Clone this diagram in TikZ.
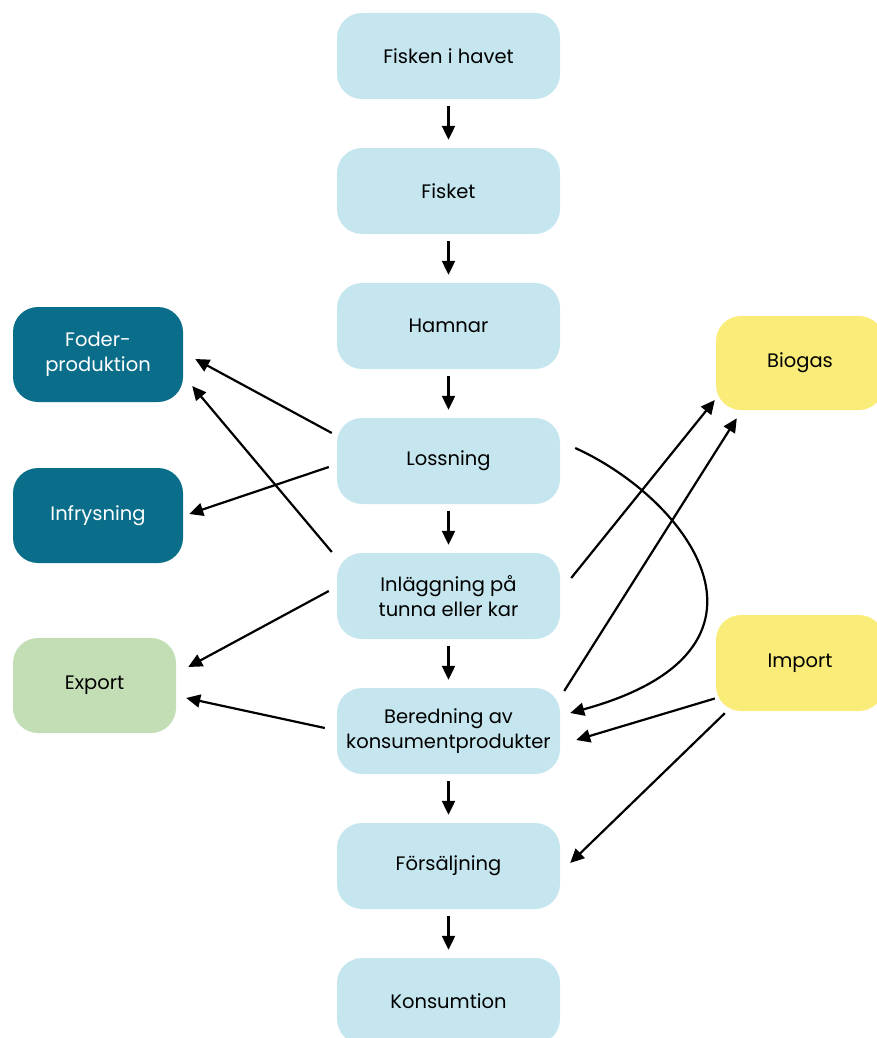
\documentclass[tikz,border=0pt]{standalone}
\usepackage{fontspec}
\setmainfont{Poppins}
\usetikzlibrary{arrows.meta}
\definecolor{lblue}{RGB}{197,230,238}
\definecolor{teal}{RGB}{10,110,138}
\definecolor{lgreen}{RGB}{195,222,180}
\definecolor{lyellow}{RGB}{250,236,120}
\tikzset{
  box/.style={rounded corners=25pt, minimum width=223pt, minimum height=86pt, fill=lblue, align=center, inner sep=0pt, font=\fontsize{19.5}{25}\selectfont, text=black},
  sidebox/.style={box, minimum width=170pt, minimum height=95pt},
  arr/.style={line width=2.2pt, -{Triangle[length=14pt,width=13pt]}},
}
\begin{document}
\begin{tikzpicture}[x=1pt,y=-1pt]
\useasboundingbox (0,0) rectangle (877,1038);
\clip (0,0) rectangle (877,1038);
\node[box] (fh) at (448.5,56) {Fisken i havet};
\node[box] (fk) at (448.5,191) {Fisket};
\node[box] (hm) at (448.5,326) {Hamnar};
\node[box] (ls) at (448.5,461) {Lossning};
\node[box] (in) at (448.5,596) {Inläggning på\\tunna eller kar};
\node[box] (br) at (448.5,731) {Beredning av\\konsumentprodukter};
\node[box] (fs) at (448.5,866) {Försäljning};
\node[box] (ks) at (448.5,1001) {Konsumtion};
\node[sidebox, fill=teal, text=white] (fp) at (98,354.5) {Foder-\\produktion};
\node[sidebox, fill=teal, text=white] (ifr) at (98,515.5) {Infrysning};
\node[sidebox, fill=lgreen, minimum width=163pt] (ex) at (94.5,685.5) {Export};
\node[sidebox, fill=lyellow, minimum width=168pt, minimum height=94pt] (bg) at (800,363) {Biogas};
\node[sidebox, fill=lyellow, minimum width=168pt, minimum height=96pt] (im) at (800,663) {Import};
\foreach \a/\b in {fh/fk,fk/hm,hm/ls,ls/in,in/br,br/fs,fs/ks}
  \draw[arr, shorten <=7pt, shorten >=8pt] (\a.south) -- (\b.north);
\draw[arr] ([shift={(-5,-28)}]ls.west) -- ([shift={(12,4.5)}]fp.east);
\draw[arr] ([shift={(-5,-44)}]in.west) -- ([shift={(9,31.5)}]fp.east);
\draw[arr] ([shift={(-8,6)}]ls.west) -- ([shift={(6,-1.5)}]ifr.east);
\draw[arr] ([shift={(-8,-5)}]in.west) -- ([shift={(12,-18.5)}]ex.east);
\draw[arr] ([shift={(-12,-3)}]br.west) -- ([shift={(10,12.5)}]ex.east);
\draw[arr] ([shift={(11,-18)}]in.east) -- ([shift={(-1,37)}]bg.west);
\draw[arr] ([shift={(4,-40)}]br.east) -- ([shift={(21,8)}]bg.south west);
\draw[arr] ([shift={(15,-13)}]ls.east) .. controls (690,500) and (800,650) .. ([shift={(10,-18)}]br.east);
\draw[arr] ([shift={(-1,35.5)}]im.west) -- ([shift={(16,9)}]br.east);
\draw[arr] ([shift={(9,2)}]im.south west) -- ([shift={(10,-3)}]fs.east);
\end{tikzpicture}
\end{document}
